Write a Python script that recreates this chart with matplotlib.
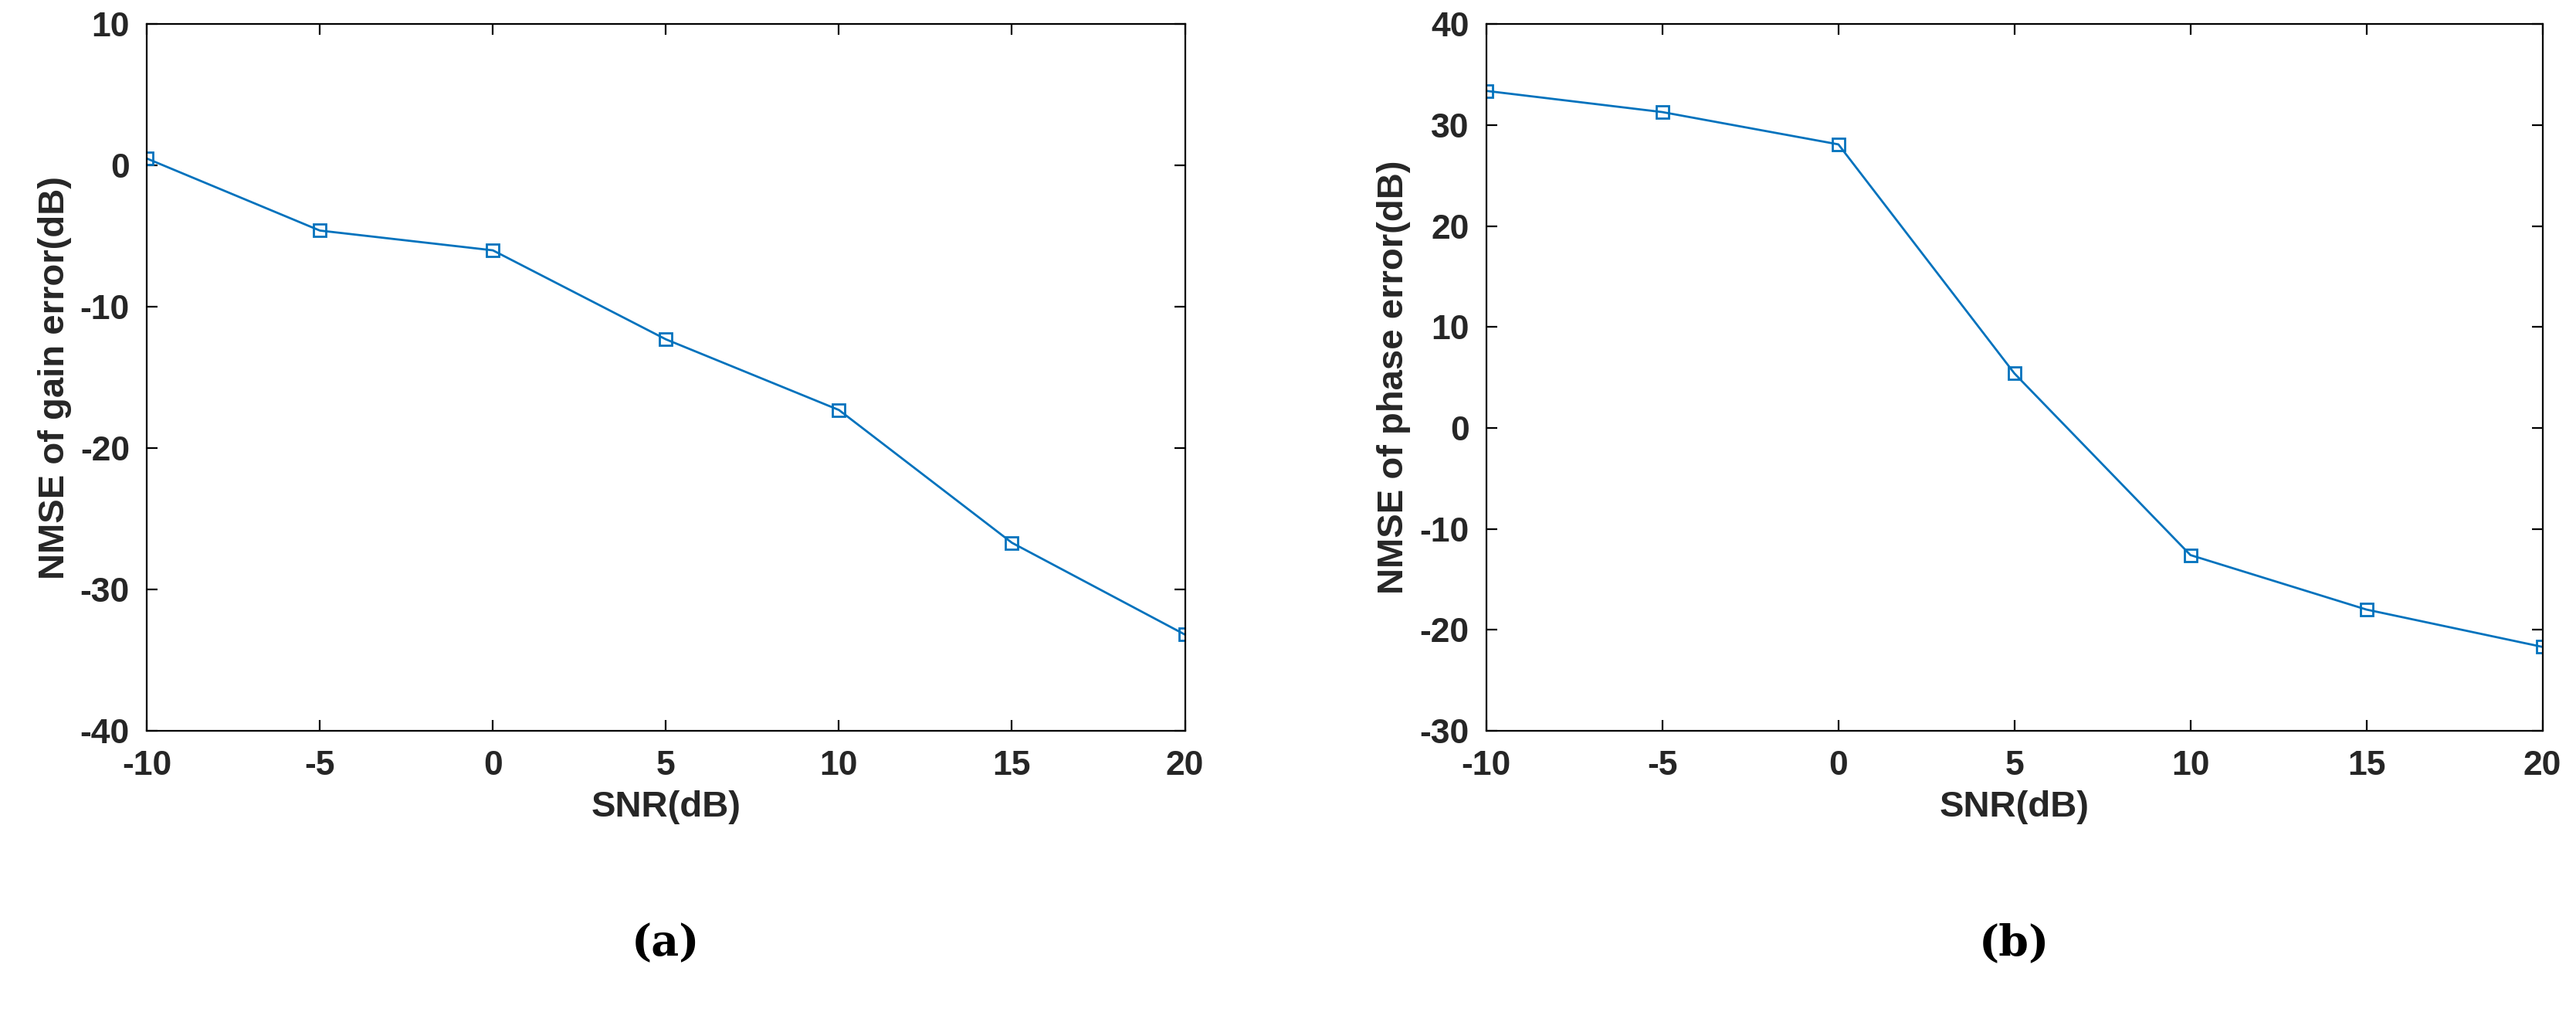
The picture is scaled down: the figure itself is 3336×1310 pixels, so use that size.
import matplotlib.pyplot as plt

snr = [-10, -5, 0, 5, 10, 15, 20]
gain_nmse = [0.5, -4.6, -6.0, -12.3, -17.3, -26.7, -33.2]
phase_nmse = [33.4, 31.3, 28.1, 5.4, -12.6, -18.0, -21.7]

plt.rcParams['font.family'] = ['Liberation Sans', 'DejaVu Sans']
plt.rcParams['font.weight'] = 'bold'
plt.rcParams['axes.unicode_minus'] = False

fig = plt.figure(figsize=(16.68, 6.55), dpi=200)
ax1 = fig.add_axes([0.057, 0.278, 0.403, 0.698])
ax2 = fig.add_axes([0.577, 0.278, 0.410, 0.698])

color = '#0072BD'
for ax, y, ylab, ylim, lab in [
        (ax1, gain_nmse, 'NMSE of gain error(dB)', (-40, 10), '(a)'),
        (ax2, phase_nmse, 'NMSE of phase error(dB)', (-30, 40), '(b)')]:
    ax.plot(snr, y, color=color, lw=1.0, marker='s', markersize=6,
            markerfacecolor='none', markeredgewidth=1.0)
    ax.set_xlim(-10, 20)
    ax.set_ylim(*ylim)
    ax.set_xticks(snr)
    ax.set_yticks(range(ylim[0], ylim[1] + 1, 10))
    ax.tick_params(direction='in', labelsize=16, top=True, right=True, length=5)
    ax.tick_params(axis='x', pad=9)
    ax.tick_params(axis='y', pad=8)
    for l in ax.get_xticklabels() + ax.get_yticklabels():
        l.set_fontweight('bold')
        l.set_color('#262626')
    ax.set_xlabel('SNR(dB)', fontsize=17, fontweight='bold', color='#262626')
    ax.set_ylabel(ylab, fontsize=17, fontweight='bold', color='#262626')
    pos = ax.get_position()
    fig.text((pos.x0 + pos.x1) / 2, 0.067, lab, ha='center', va='center',
             fontsize=20, family='DejaVu Serif', fontweight='bold')

fig.savefig('out.png')
